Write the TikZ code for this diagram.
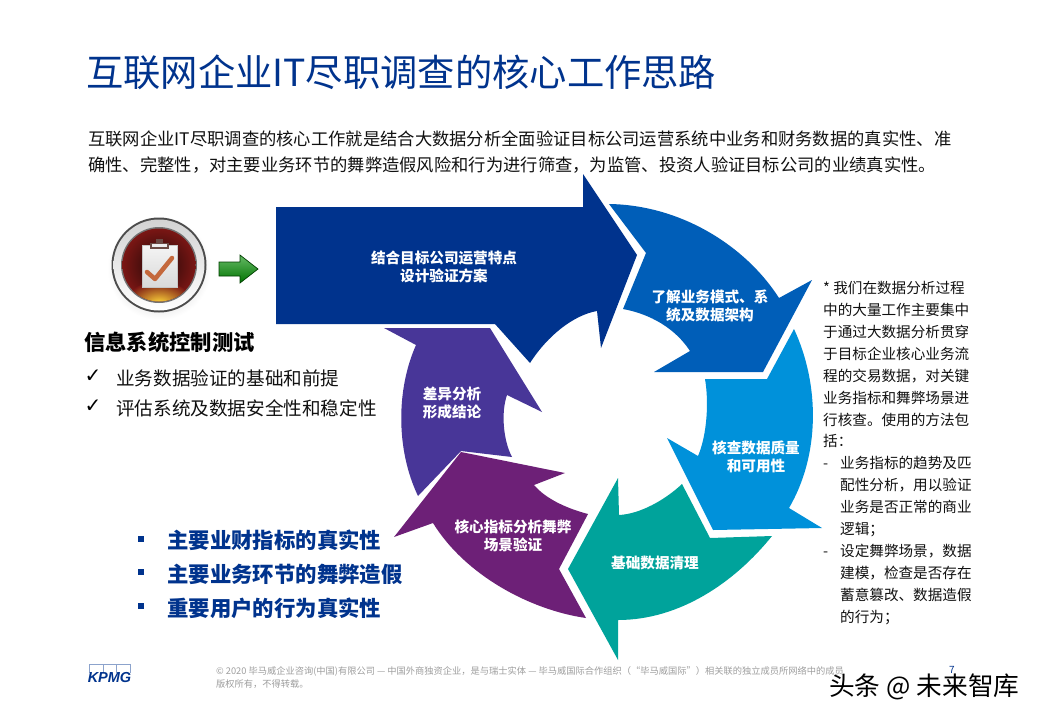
\documentclass[tikz,border=0pt]{standalone}
\usepackage{fontspec}
\setmainfont{Noto Sans CJK SC}
\newfontfamily\djv{DejaVu Sans}
\newfontfamily\lib{Liberation Sans}
\definecolor{kblue}{HTML}{00338D}
\definecolor{kmid}{HTML}{005EB8}
\definecolor{kcyan}{HTML}{0091DA}
\definecolor{kteal}{HTML}{00A39B}
\definecolor{kpurple}{HTML}{6D2077}
\definecolor{kindigo}{HTML}{483698}
\definecolor{txt}{HTML}{111111}
\definecolor{clipc}{HTML}{6B4A44}
\definecolor{tickc}{HTML}{C4683C}
\definecolor{maroon}{HTML}{7A1614}
\definecolor{darkm}{HTML}{1E0807}
\definecolor{glow}{HTML}{FFD83A}
\newcommand{\fs}[2]{\fontsize{#1}{#2}\selectfont}
\tikzset{
 lbl/.style={text=white,align=center,inner sep=0pt,font=\fs{14.6}{18.6}\bfseries},
 lft/.style={anchor=west,inner sep=0pt,text=txt},
 bulletsq/.style={fill=kblue,minimum size=6.5pt,inner sep=0pt},
 chk/.style={inner sep=0pt,text=black,font=\djv\fs{20}{20}},
 logoline/.style={draw=kblue!45,line width=.7pt},
}
\begin{document}
\begin{tikzpicture}[x=1pt,y=-1pt]
\useasboundingbox (0,0) rectangle (1040,720);
\fill[white] (0,0) rectangle (1040,720);
% title and intro
\node[lft,text=kblue,font=\fs{37.3}{40}] (title) at (86,72) {互联网企业IT尽职调查的核心工作思路};
\node[lft,font=\fs{17.3}{26}, align=left] (intro) at (88,152) {互联网企业IT尽职调查的核心工作就是结合大数据分析全面验证目标公司运营系统中业务和财务数据的真实性、准\\确性、完整性，对主要业务环节的舞弊造假风险和行为进行筛查，为监管、投资人验证目标公司的业绩真实性。};
% cycle arrows
\fill[kblue] (276,207) -- (583,207) -- (583,174) -- (637,255) -- (601,348) -- (597,311)
  .. controls (574,315) and (548,335) .. (530,363) -- (495,324) -- (276,324) -- cycle;
\fill[kmid] (609,204) .. controls (680,205) and (745,245) .. (779,298) -- (812,280) -- (763,372) -- (654,372) -- (690,351)
  .. controls (675,328) and (650,314) .. (623,309) -- (646,253) -- cycle;
\fill[kcyan] (794,329) .. controls (820,385) and (820,455) .. (789,508) -- (822,528) -- (713,530) -- (667,438) -- (698,456)
  .. controls (707,435) and (709,402) .. (705,379) -- (767,379) -- cycle;
\fill[kteal] (772,536) .. controls (735,582) and (680,620) .. (618,620) -- (618,660) -- (568,569) -- (618,478) -- (619,515)
  .. controls (640,514) and (665,500) .. (682,484) -- (710,538) -- cycle;
\fill[kpurple] (586,618) .. controls (530,610) and (465,575) .. (433,523) -- (394,537) -- (461,452) -- (565,473) -- (534,485)
  .. controls (545,498) and (565,508) .. (588,514) -- (559,569) -- cycle;
\fill[kindigo] (418,496) .. controls (396,450) and (396,390) .. (416,345) -- (384,328) -- (490,328) -- (542,412) -- (507,395)
  .. controls (501,412) and (503,440) .. (512,457) -- (461,451) -- cycle;
% labels in the cycle
\node[lbl] (s1) at (444,267) {结合目标公司运营特点\\设计验证方案};
\node[lbl] (s2) at (710,306) {了解业务模式、系\\统及数据架构};
\node[lbl] (s3) at (756,457) {核查数据质量\\和可用性};
\node[lbl] (s4) at (655,563) {基础数据清理};
\node[lbl] (s5) at (513,536) {核心指标分析舞弊\\场景验证};
\node[lbl] (s6) at (452,403) {差异分析\\形成结论};
% icon
\shade[inner color=gray!60,outer color=white] (159,268) circle (52);
\fill[black!70] (159,265) circle (47.5);
\shade[top color=gray!35,bottom color=white] (159,265) circle (45.5);
\fill[black!55] (159,265) circle (38);
\shade[inner color=darkm,outer color=maroon] (159,265) circle (36.5);
\begin{scope}
\clip (159,265) circle (36.5);
\shade[inner color=glow,outer color=maroon] (159,303) ellipse (34 and 21);
\end{scope}
\shade[top color=gray!8,bottom color=gray!30,draw=gray!45] (142,245) rectangle (177,287);
\fill[clipc] (150,243) rectangle (169,249);
\fill[clipc] (156,239) rectangle (163,244);
\fill[gray!15] (152,244) rectangle (167,247);
\draw[line width=4.5pt,line cap=round,line join=round,draw=tickc] (147,272) -- (155,279) -- (172,258);
% green arrow
\shade[top color=green!55!black!60!white,bottom color=green!45!black,draw=black!55!green!55!black,line width=.7pt] (219,262) -- (240,262) -- (240,255) -- (258,269) -- (240,283) -- (240,276) -- (219,276) -- cycle;
% left text
\node[lft,text=black,font=\fs{21.3}{24}\bfseries] (head) at (84,342) {信息系统控制测试};
\node[chk] (c1) at (93,376) {✓};
\node[chk] (c2) at (93,406) {✓};
\node[lft,font=\fs{18.6}{22}] (t1) at (116,378) {业务数据验证的基础和前提};
\node[lft,font=\fs{18.6}{22}] (t2) at (116,408) {评估系统及数据安全性和稳定性};
\node[bulletsq] (b1) at (141,539) {};
\node[bulletsq] (b2) at (141,572) {};
\node[bulletsq] (b3) at (141,606) {};
\node[lft,text=kblue,font=\fs{21.4}{24}\bfseries] (k1) at (167,540) {主要业财指标的真实性};
\node[lft,text=kblue,font=\fs{21.4}{24}\bfseries] (k2) at (167,574) {主要业务环节的舞弊造假};
\node[lft,text=kblue,font=\fs{21.4}{24}\bfseries] (k3) at (167,608) {重要用户的行为真实性};
% right text
\node[anchor=north west,inner sep=0pt,text=txt,align=left,font=\fs{14.6}{21.93}] (note) at (823,281) {%
* 我们在数据分析过程\\
中的大量工作主要集中\\
于通过大数据分析贯穿\\
于目标企业核心业务流\\
程的交易数据，对关键\\
业务指标和舞弊场景进\\
行核查。使用的方法包\\
括：\\
\makebox[17pt][l]{-}业务指标的趋势及匹\\
\hspace*{17pt}配性分析，用以验证\\
\hspace*{17pt}业务是否正常的商业\\
\hspace*{17pt}逻辑；\\
\makebox[17pt][l]{-}设定舞弊场景，数据\\
\hspace*{17pt}建模，检查是否存在\\
\hspace*{17pt}蓄意篡改、数据造假\\
\hspace*{17pt}的行为；};
% footer
\draw[logoline] (89,673) -- (89,664) -- (130,664) -- (130,673);
\draw[logoline] (103,664) -- (103,673);
\draw[logoline] (116,664) -- (116,673);
\node[inner sep=0pt,text=kblue,font=\lib\fs{14.5}{15}\bfseries\itshape] (kpmg) at (109.5,677) {KPMG};
\node[lft,text=black!38,align=left,font=\fs{9.25}{13}] (foot) at (216,677.5) {© 2020 毕马威企业咨询(中国)有限公司 — 中国外商独资企业，是与瑞士实体 — 毕马威国际合作组织（“毕马威国际”）相关联的独立成员所网络中的成员\\版权所有，不得转载。};
\node[inner sep=0pt,text=kblue,font=\fs{10}{12}] (pg) at (952,670) {7};
\node[lft,text=black,font=\fs{25.7}{28}] (wm) at (829,687) {头条 @\hspace{6pt}未来智库};
\end{tikzpicture}
\end{document}
